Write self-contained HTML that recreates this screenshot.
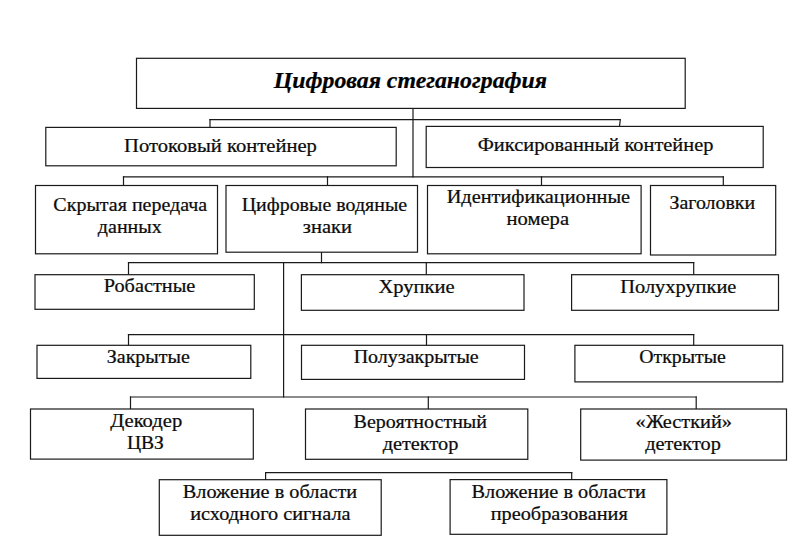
<!DOCTYPE html>
<html lang="ru"><head><meta charset="utf-8"><title>Цифровая стеганография</title>
<style>html,body{margin:0;padding:0;background:#fff;}svg{display:block;}text{font-family:"Liberation Serif",serif;font-size:20px;fill:#0c0c0c;stroke:#0c0c0c;stroke-width:0.25;text-anchor:middle;}.ttl{font-size:24px;font-weight:bold;font-style:italic;fill:#000;}.b{fill:#fff;stroke:#1a1a1a;stroke-width:1.2;}.l{stroke:#1a1a1a;stroke-width:1.2;fill:none;stroke-linecap:square;}</style></head><body>
<svg width="798" height="560" viewBox="0 0 798 560">
<rect x="0" y="0" width="798" height="560" fill="#fff"/>
<g>
<line class="l" x1="210" y1="119.6" x2="619.8" y2="119.6"/>
<line class="l" x1="210" y1="119.6" x2="210" y2="127.4"/>
<line class="l" x1="620.3" y1="119.6" x2="619.5" y2="126.4"/>
<line class="l" x1="413" y1="108.4" x2="413" y2="176.8"/>
<line class="l" x1="123.5" y1="176.8" x2="723.3" y2="176.8"/>
<line class="l" x1="123.5" y1="176.8" x2="123.5" y2="185.5"/>
<line class="l" x1="327.5" y1="176.8" x2="327.5" y2="185.5"/>
<line class="l" x1="541.5" y1="176.8" x2="541.5" y2="185.5"/>
<line class="l" x1="723.3" y1="176.8" x2="723.3" y2="185.5"/>
<line class="l" x1="321.5" y1="252.2" x2="321.5" y2="262.7"/>
<line class="l" x1="128.5" y1="262.7" x2="693.7" y2="262.7"/>
<line class="l" x1="128.5" y1="262.7" x2="128.5" y2="274.7"/>
<line class="l" x1="426.3" y1="262.7" x2="426.3" y2="274.7"/>
<line class="l" x1="693.7" y1="262.7" x2="693.7" y2="274.7"/>
<line class="l" x1="283.6" y1="262.7" x2="283.6" y2="397.0"/>
<line class="l" x1="128.5" y1="334.6" x2="693.7" y2="334.6"/>
<line class="l" x1="128.5" y1="334.6" x2="128.5" y2="345.3"/>
<line class="l" x1="426.5" y1="334.6" x2="426.5" y2="345.3"/>
<line class="l" x1="693.7" y1="334.6" x2="693.7" y2="345.3"/>
<line class="l" x1="130.5" y1="397.0" x2="696.2" y2="397.0"/>
<line class="l" x1="130.5" y1="397.0" x2="130.5" y2="409.0"/>
<line class="l" x1="428.3" y1="397.0" x2="428.3" y2="409.0"/>
<line class="l" x1="696.2" y1="397.0" x2="696.2" y2="409.0"/>
<line class="l" x1="265.6" y1="472.6" x2="571.7" y2="472.6"/>
<line class="l" x1="265.6" y1="472.6" x2="265.6" y2="479.7"/>
<line class="l" x1="571.7" y1="472.6" x2="571.7" y2="479.6"/>
</g><g>
<rect class="b" x="136.5" y="58.3" width="548.7" height="50.1"/>
<rect class="b" x="45.8" y="127.4" width="350.4" height="38.4"/>
<rect class="b" x="426.2" y="126.4" width="337.0" height="41.1"/>
<rect class="b" x="35.5" y="185.5" width="182.0" height="68.3"/>
<rect class="b" x="226.0" y="185.5" width="191.5" height="66.7"/>
<rect class="b" x="427.5" y="185.5" width="213.6" height="68.3"/>
<rect class="b" x="650.5" y="185.5" width="125.2" height="69.5"/>
<rect class="b" x="35.0" y="274.7" width="219.3" height="34.6"/>
<rect class="b" x="301.4" y="274.7" width="222.6" height="35.6"/>
<rect class="b" x="571.6" y="274.7" width="206.9" height="35.6"/>
<rect class="b" x="37.0" y="345.3" width="213.8" height="33.1"/>
<rect class="b" x="301.5" y="345.3" width="223.0" height="34.1"/>
<rect class="b" x="574.9" y="345.3" width="207.8" height="36.6"/>
<rect class="b" x="30.5" y="409.0" width="222.8" height="50.1"/>
<rect class="b" x="305.5" y="409.0" width="222.3" height="50.3"/>
<rect class="b" x="580.7" y="409.0" width="205.8" height="51.1"/>
<rect class="b" x="159.3" y="479.7" width="221.9" height="55.6"/>
<rect class="b" x="450.1" y="479.6" width="216.8" height="54.7"/>
</g><g>
<text class="ttl" transform="translate(410.4 87.8) scale(0.992 1)">Цифровая стеганография</text>
<text transform="translate(220.5 152.3) scale(1.03 0.965)">Потоковый контейнер</text>
<text transform="translate(595.6 150.8) scale(1.02 0.965)">Фиксированный контейнер</text>
<text transform="translate(130.3 210.8) scale(1.0 0.95)">Скрытая передача</text>
<text transform="translate(129.8 232.8) scale(1.0 0.95)">данных</text>
<text transform="translate(324.4 210.8) scale(0.997 0.95)">Цифровые водяные</text>
<text transform="translate(327.4 232.6) scale(1.025 0.95)">знаки</text>
<text transform="translate(538.4 203.3) scale(1.015 0.95)">Идентификационные</text>
<text transform="translate(537.8 225.1) scale(1.03 0.95)">номера</text>
<text transform="translate(712.3 209.3) scale(0.995 0.95)">Заголовки</text>
<text transform="translate(149.5 292.3) scale(1.015 0.95)">Робастные</text>
<text transform="translate(416.5 293.0) scale(1.027 0.95)">Хрупкие</text>
<text transform="translate(678.3 292.8) scale(1.02 0.95)">Полухрупкие</text>
<text transform="translate(148.3 362.6) scale(1.0 0.95)">Закрытые</text>
<text transform="translate(416.2 363.1) scale(1.0 0.95)">Полузакрытые</text>
<text transform="translate(682.5 363.1) scale(0.99 0.95)">Открытые</text>
<text transform="translate(146.2 427.3) scale(1.03 0.95)">Декодер</text>
<text transform="translate(145.4 449.3) scale(0.98 0.95)">ЦВЗ</text>
<text transform="translate(420.3 427.8) scale(1.0 0.95)">Вероятностный</text>
<text transform="translate(420.5 449.6) scale(1.015 0.95)">детектор</text>
<text transform="translate(683.7 427.8) scale(1.015 0.95)">«Жесткий»</text>
<text transform="translate(683.0 449.6) scale(1.015 0.95)">детектор</text>
<text transform="translate(270.0 497.7) scale(1.015 0.95)">Вложение в области</text>
<text transform="translate(270.4 519.7) scale(1.015 0.95)">исходного сигнала</text>
<text transform="translate(558.7 497.7) scale(1.015 0.95)">Вложение в области</text>
<text transform="translate(559.2 519.7) scale(1.015 0.95)">преобразования</text>
</g></svg></body></html>
